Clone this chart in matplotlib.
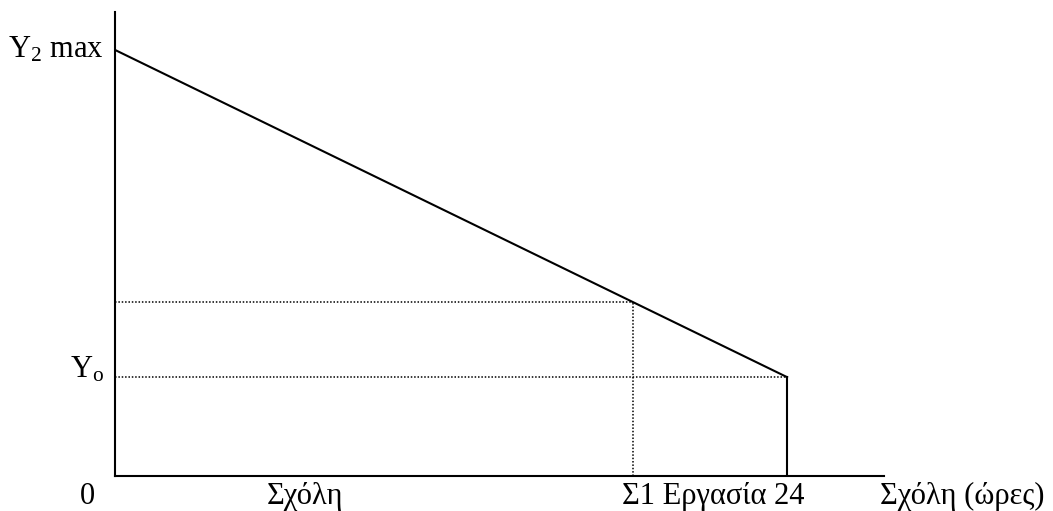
import matplotlib.pyplot as plt

plt.rcParams['font.family'] = ['Liberation Serif', 'DejaVu Serif']
plt.rcParams['mathtext.fontset'] = 'custom'
plt.rcParams['mathtext.rm'] = 'Liberation Serif'
plt.rcParams['mathtext.it'] = 'Liberation Serif'
plt.rcParams['mathtext.default'] = 'regular'

# budget line: hours of leisure vs income
hours = [0, 24]
income = [100, 23.2]
y_max = 100
y_o = 23.2
s1 = 18.5
y_s1 = 40.8

x_labels = [(-1.0, '0'), (6.8, 'Σχόλη'), (21.36, 'Σ1 Εργασία 24')]

fig = plt.figure(figsize=(10.53, 5.11), dpi=100)
ax = fig.add_axes([115 / 1053, 35 / 511, (884 - 115) / 1053, (476 - 12) / 511])
ax.set_xlim(0, 27.46)
ax.set_ylim(0, 108.9)

ax.plot(hours, income, color='black', lw=1.5)
ax.plot([hours[1], hours[1]], [0, income[1]], color='black', lw=1.5)
ax.plot([0, hours[1]], [y_o, y_o], color='black', lw=1.1, ls=(0, (1, 1.2)))
ax.plot([0, s1], [y_s1, y_s1], color='black', lw=1.1, ls=(0, (1, 1.2)))
ax.plot([s1, s1], [0, y_s1], color='black', lw=1.1, ls=(0, (1, 1.2)))

for side in ['top', 'right']:
    ax.spines[side].set_visible(False)
for side in ['left', 'bottom']:
    ax.spines[side].set_linewidth(1.5)
ax.set_xticks([])
ax.set_yticks([])

fs = 22
ax.text(-0.4, y_max, 'Y$_2$ max', ha='right', va='center', fontsize=fs)
ax.text(-0.4, y_o + 1.8, 'Y$_o$', ha='right', va='center', fontsize=fs)
for x, lab in x_labels:
    ax.text(x, -4.8, lab, ha='center', va='center', fontsize=fs, clip_on=False)
ax.text(27.3, -4.8, 'Σχόλη (ώρες)', ha='left', va='center', fontsize=fs, clip_on=False)

fig.savefig('out.png', dpi=100)
